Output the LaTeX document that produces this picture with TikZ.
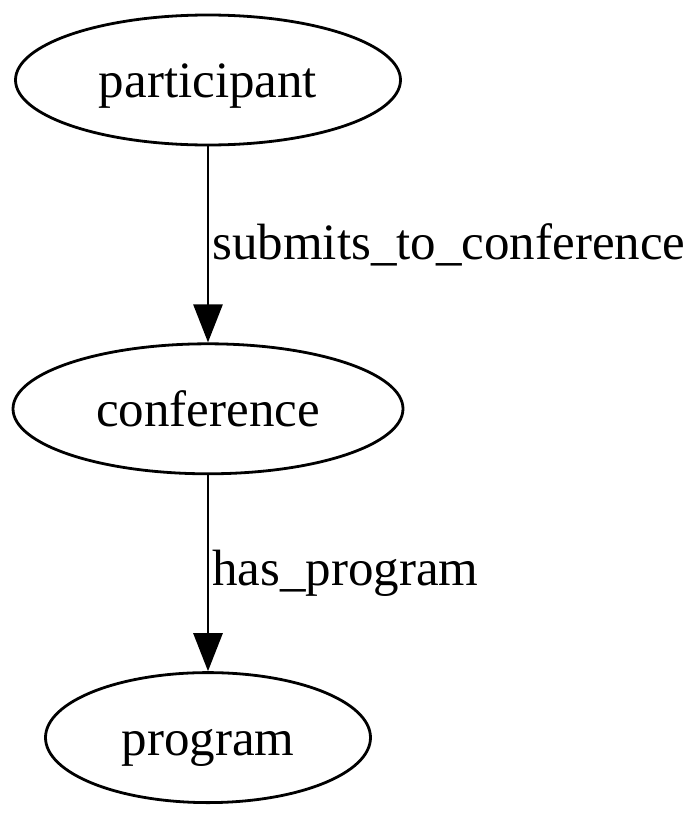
\documentclass[tikz,border=0pt]{standalone}
\usepackage{fontspec}
\setmainfont{Liberation Serif}
\usepackage{tikz}
\usetikzlibrary{arrows.meta, positioning, shapes.geometric}

\begin{document}
\begin{tikzpicture}[x=1pt, y=1pt, font=\fontsize{51}{60}\selectfont, node distance=196pt, line width=2.8pt]
        \tikzset{
            entity/.style={draw, ellipse, inner sep=0pt, minimum height=130pt, text height=35pt, text depth=0pt},
            rel/.style={-{Triangle[length=38pt, width=29pt]}},
            rellabel/.style={anchor=west, inner sep=0pt, xshift=3pt}
        }
        \useasboundingbox (0,0) rectangle (700,-814);

        \node[entity, minimum width=385pt] (participant) at (208,-80) {participant};
        \node[entity, minimum width=390pt, below=of participant] (conference) {conference};
        \node[entity, minimum width=325pt, below=of conference] (program) {program};

        \draw[rel] (participant) -- node[rellabel] {submits\_to\_conference} (conference);
        \draw[rel] (conference) -- node[rellabel] {has\_program} (program);
    \end{tikzpicture}
\end{document}
